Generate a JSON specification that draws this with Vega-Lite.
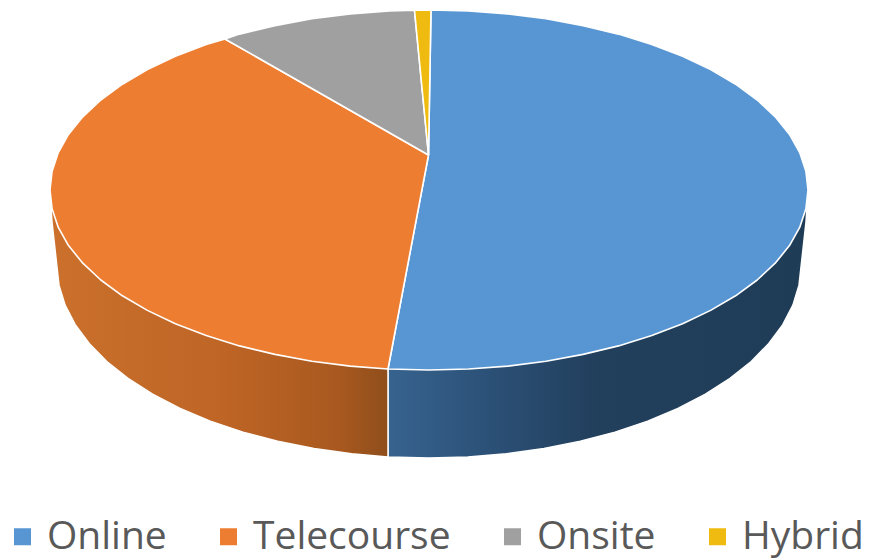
{
  "$schema": "https://vega.github.io/schema/vega-lite/v6.json",
  "width": 869,
  "height": 560,
  "padding": 0,
  "autosize": {"type": "fit", "contains": "padding"},
  "background": "white",
  "view": {"stroke": null},
  "datasets": {
    "wall": [
      {"slice":"Online","i":0,"x":388,"y":369},
      {"slice":"Online","i":1,"x":429,"y":300},
      {"slice":"Online","i":2,"x":808,"y":192},
      {"slice":"Online","i":3,"x":806,"y":222},
      {"slice":"Online","i":4,"x":799,"y":285.2},
      {"slice":"Online","i":5,"x":792.9,"y":305.1},
      {"slice":"Online","i":6,"x":782.8,"y":324.6},
      {"slice":"Online","i":7,"x":768.8,"y":343.5},
      {"slice":"Online","i":8,"x":751.2,"y":361.5},
      {"slice":"Online","i":9,"x":730,"y":378.4},
      {"slice":"Online","i":10,"x":705.4,"y":394.1},
      {"slice":"Online","i":11,"x":677.9,"y":408.4},
      {"slice":"Online","i":12,"x":647.7,"y":421.1},
      {"slice":"Online","i":13,"x":615,"y":432.1},
      {"slice":"Online","i":14,"x":580.3,"y":441.3},
      {"slice":"Online","i":15,"x":544,"y":448.6},
      {"slice":"Online","i":16,"x":506.3,"y":453.8},
      {"slice":"Online","i":17,"x":467.9,"y":456.9},
      {"slice":"Online","i":18,"x":429,"y":458},
      {"slice":"Online","i":19,"x":388,"y":457},
      {"slice":"Online","i":20,"x":388,"y":369},
      {"slice":"Telecourse","i":0,"x":388,"y":369},
      {"slice":"Telecourse","i":1,"x":388,"y":457},
      {"slice":"Telecourse","i":2,"x":351.7,"y":453.8},
      {"slice":"Telecourse","i":3,"x":314,"y":448.6},
      {"slice":"Telecourse","i":4,"x":277.7,"y":441.3},
      {"slice":"Telecourse","i":5,"x":243,"y":432.1},
      {"slice":"Telecourse","i":6,"x":210.3,"y":421.1},
      {"slice":"Telecourse","i":7,"x":180.1,"y":408.4},
      {"slice":"Telecourse","i":8,"x":152.6,"y":394.1},
      {"slice":"Telecourse","i":9,"x":128,"y":378.4},
      {"slice":"Telecourse","i":10,"x":106.8,"y":361.5},
      {"slice":"Telecourse","i":11,"x":89.2,"y":343.5},
      {"slice":"Telecourse","i":12,"x":75.2,"y":324.6},
      {"slice":"Telecourse","i":13,"x":65.1,"y":305.1},
      {"slice":"Telecourse","i":14,"x":59,"y":285.2},
      {"slice":"Telecourse","i":15,"x":52,"y":222},
      {"slice":"Telecourse","i":16,"x":50,"y":192},
      {"slice":"Telecourse","i":17,"x":200,"y":300},
      {"slice":"Telecourse","i":18,"x":388,"y":369}
    ],
    "top": [
      {"slice":"Online","i":0,"x":428.5,"y":155},
      {"slice":"Online","i":1,"x":431,"y":10},
      {"slice":"Online","i":2,"x":468.6,"y":11},
      {"slice":"Online","i":3,"x":507.8,"y":13.9},
      {"slice":"Online","i":4,"x":546.1,"y":18.8},
      {"slice":"Online","i":5,"x":583.1,"y":25.6},
      {"slice":"Online","i":6,"x":618.5,"y":34.1},
      {"slice":"Online","i":7,"x":651.8,"y":44.4},
      {"slice":"Online","i":8,"x":682.6,"y":56.2},
      {"slice":"Online","i":9,"x":710.6,"y":69.6},
      {"slice":"Online","i":10,"x":735.6,"y":84.2},
      {"slice":"Online","i":11,"x":757.2,"y":100},
      {"slice":"Online","i":12,"x":775.2,"y":116.8},
      {"slice":"Online","i":13,"x":789.5,"y":134.4},
      {"slice":"Online","i":14,"x":799.7,"y":152.6},
      {"slice":"Online","i":15,"x":805.9,"y":171.2},
      {"slice":"Online","i":16,"x":808,"y":190},
      {"slice":"Online","i":17,"x":805.9,"y":208.8},
      {"slice":"Online","i":18,"x":799.7,"y":227.4},
      {"slice":"Online","i":19,"x":789.5,"y":245.6},
      {"slice":"Online","i":20,"x":775.2,"y":263.2},
      {"slice":"Online","i":21,"x":757.2,"y":280},
      {"slice":"Online","i":22,"x":735.6,"y":295.8},
      {"slice":"Online","i":23,"x":710.6,"y":310.4},
      {"slice":"Online","i":24,"x":682.6,"y":323.8},
      {"slice":"Online","i":25,"x":651.8,"y":335.6},
      {"slice":"Online","i":26,"x":618.5,"y":345.9},
      {"slice":"Online","i":27,"x":583.1,"y":354.4},
      {"slice":"Online","i":28,"x":546.1,"y":361.2},
      {"slice":"Online","i":29,"x":507.8,"y":366.1},
      {"slice":"Online","i":30,"x":468.6,"y":369},
      {"slice":"Online","i":31,"x":429,"y":370},
      {"slice":"Online","i":32,"x":388,"y":369},
      {"slice":"Online","i":33,"x":428.5,"y":155},
      {"slice":"Telecourse","i":0,"x":428.5,"y":155},
      {"slice":"Telecourse","i":1,"x":388,"y":369},
      {"slice":"Telecourse","i":2,"x":350.2,"y":366.1},
      {"slice":"Telecourse","i":3,"x":311.9,"y":361.2},
      {"slice":"Telecourse","i":4,"x":274.9,"y":354.4},
      {"slice":"Telecourse","i":5,"x":239.5,"y":345.9},
      {"slice":"Telecourse","i":6,"x":206.2,"y":335.6},
      {"slice":"Telecourse","i":7,"x":175.4,"y":323.8},
      {"slice":"Telecourse","i":8,"x":147.4,"y":310.4},
      {"slice":"Telecourse","i":9,"x":122.4,"y":295.8},
      {"slice":"Telecourse","i":10,"x":100.8,"y":280},
      {"slice":"Telecourse","i":11,"x":82.8,"y":263.2},
      {"slice":"Telecourse","i":12,"x":68.5,"y":245.6},
      {"slice":"Telecourse","i":13,"x":58.3,"y":227.4},
      {"slice":"Telecourse","i":14,"x":52.1,"y":208.8},
      {"slice":"Telecourse","i":15,"x":50,"y":190},
      {"slice":"Telecourse","i":16,"x":52.1,"y":171.2},
      {"slice":"Telecourse","i":17,"x":58.3,"y":152.6},
      {"slice":"Telecourse","i":18,"x":68.5,"y":134.4},
      {"slice":"Telecourse","i":19,"x":82.8,"y":116.8},
      {"slice":"Telecourse","i":20,"x":100.8,"y":100},
      {"slice":"Telecourse","i":21,"x":122.4,"y":84.2},
      {"slice":"Telecourse","i":22,"x":147.4,"y":69.6},
      {"slice":"Telecourse","i":23,"x":175.4,"y":56.2},
      {"slice":"Telecourse","i":24,"x":206.2,"y":44.4},
      {"slice":"Telecourse","i":25,"x":225,"y":39},
      {"slice":"Telecourse","i":26,"x":428.5,"y":155},
      {"slice":"Onsite","i":0,"x":428.5,"y":155},
      {"slice":"Onsite","i":1,"x":225,"y":39},
      {"slice":"Onsite","i":2,"x":239.5,"y":34.1},
      {"slice":"Onsite","i":3,"x":274.9,"y":25.6},
      {"slice":"Onsite","i":4,"x":311.9,"y":18.8},
      {"slice":"Onsite","i":5,"x":350.2,"y":13.9},
      {"slice":"Onsite","i":6,"x":389.4,"y":11},
      {"slice":"Onsite","i":7,"x":414.5,"y":10.3},
      {"slice":"Onsite","i":8,"x":428.5,"y":155},
      {"slice":"Hybrid","i":0,"x":428.5,"y":155},
      {"slice":"Hybrid","i":1,"x":414.5,"y":10.3},
      {"slice":"Hybrid","i":2,"x":431,"y":10},
      {"slice":"Hybrid","i":3,"x":428.5,"y":155}
    ]
  },
  "encoding": {
    "x": {"field": "x", "type": "quantitative", "scale": {"domain": [0, 869], "nice": false, "zero": false}, "axis": null},
    "y": {"field": "y", "type": "quantitative", "scale": {"domain": [560, 0], "nice": false, "zero": false}, "axis": null},
    "order": {"field": "i", "type": "ordinal"}
  },
  "layer": [
    {
      "description": "Front wall of the Online slice, shaded from left to right",
      "data": {"name": "wall"},
      "transform": [{"filter": "datum.slice === 'Online'"}],
      "mark": {
        "type": "line",
        "stroke": "white",
        "strokeWidth": 1.5,
        "fill": {
          "gradient": "linear", "x1": 0, "y1": 0, "x2": 1, "y2": 0,
          "stops": [
            {"offset": 0, "color": "#37638f"},
            {"offset": 0.25, "color": "#2b5076"},
            {"offset": 0.5, "color": "#223f5c"},
            {"offset": 1, "color": "#1f3c57"}
          ]
        }
      }
    },
    {
      "description": "Front wall of the Telecourse slice",
      "data": {"name": "wall"},
      "transform": [{"filter": "datum.slice === 'Telecourse'"}],
      "mark": {
        "type": "line",
        "stroke": "white",
        "strokeWidth": 1.5,
        "fill": {
          "gradient": "linear", "x1": 0, "y1": 0, "x2": 1, "y2": 0,
          "stops": [
            {"offset": 0, "color": "#cb712c"},
            {"offset": 0.5, "color": "#bf6526"},
            {"offset": 0.85, "color": "#a9591f"},
            {"offset": 1, "color": "#8f4e1b"}
          ]
        }
      }
    },
    {
      "description": "Upper face of the pie, one closed outline per slice",
      "data": {"name": "top"},
      "mark": {"type": "line", "stroke": "white", "strokeWidth": 1.6, "strokeJoin": "round"},
      "encoding": {
        "fill": {
          "field": "slice",
          "type": "nominal",
          "scale": {
            "domain": ["Online", "Telecourse", "Onsite", "Hybrid"],
            "range": ["#5896d3", "#ed7d31", "#a0a0a0", "#f0bb10"]
          },
          "legend": {
            "orient": "none",
            "legendX": 3,
            "legendY": 517,
            "direction": "horizontal",
            "columns": 4,
            "title": null,
            "padding": 0,
            "symbolType": "square",
            "symbolSize": 289,
            "symbolStrokeWidth": 0,
            "symbolOpacity": 1,
            "labelFont": "Open Sans",
            "labelFontSize": 39,
            "labelColor": "#595959",
            "labelOffset": 5,
            "columnPadding": 42,
            "labelLimit": 400
          }
        }
      }
    }
  ]
}
